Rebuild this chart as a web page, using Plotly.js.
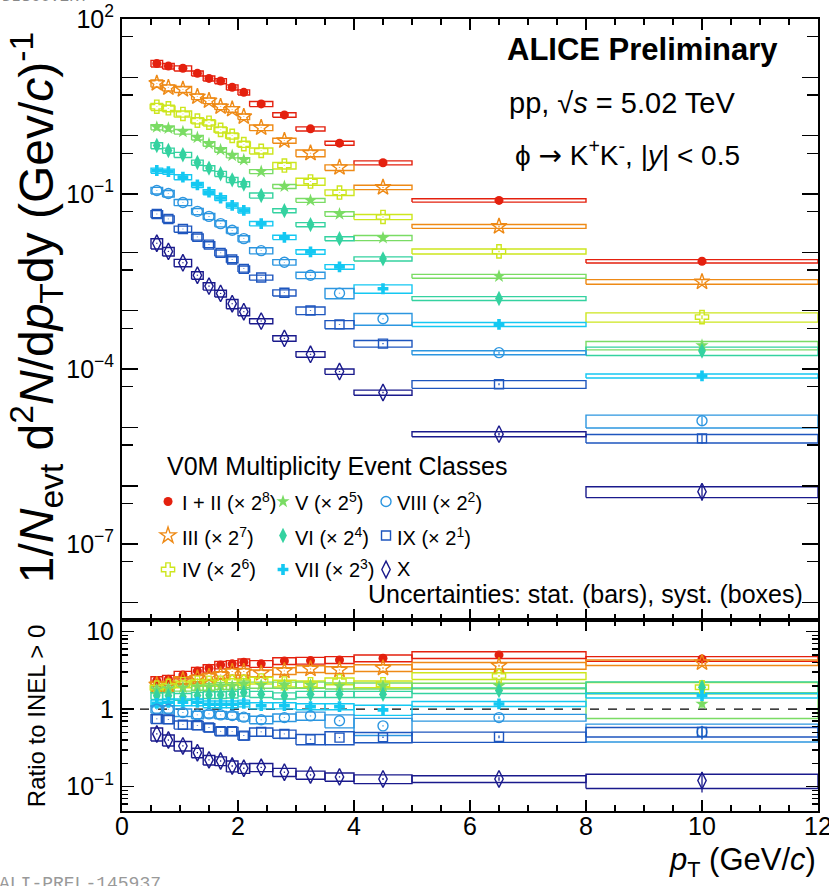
<!DOCTYPE html>
<html><head><meta charset="utf-8">
<script src="https://cdn.plot.ly/plotly-3.0.1.min.js"></script>
<style>html,body{margin:0;padding:0;background:#fff}#chart{width:829px;height:886px}</style>
</head><body><div id="chart"></div>
<script>
// ---------------- data ----------------
const ptEdges   = [0.5,0.7,0.9,1.2,1.4,1.6,1.8,2.0,2.2,2.6,3.0,3.5,4.0,5.0,8.0,12.0];
const ptCenters = [0.6,0.8,1.05,1.3,1.5,1.7,1.9,2.1,2.4,2.8,3.25,3.75,4.5,6.5,10];

// spectra as drawn (already multiplied by the legend scale factor)
const spec_I_II = [17.3,15.6,14.3,11.7,9.6,8.65,6.75,5.54,3.50,2.27,1.31,0.745,0.343,0.0778,0.00705];
const spec_III  = [7.89,6.64,6.23,4.66,3.98,3.14,2.84,2.12,1.37,0.824,0.502,0.285,0.130,0.0279,0.00313];
const spec_IV   = [3.14,2.95,2.36,1.81,1.67,1.26,0.993,0.716,0.550,0.308,0.164,0.106,0.0405,0.0104,0.000778];
const spec_V    = [1.40,1.34,1.17,0.929,0.724,0.572,0.457,0.386,0.243,0.135,0.0778,0.0455,0.0177,0.00390,0.000255];
const spec_VI   = [0.677,0.556,0.470,0.347,0.278,0.222,0.175,0.148,0.0946,0.0519,0.0299,0.0172,0.00775,0.00162,0.000204];
const spec_VII  = [0.253,0.243,0.195,0.144,0.108,0.0855,0.0638,0.0525,0.0311,0.0181,0.0102,0.00565,0.00238,0.000583,0.0000762];
const spec_VIII = [0.115,0.102,0.0718,0.0505,0.0414,0.0311,0.0239,0.0172,0.0107,0.00678,0.00406,0.00200,0.000730,0.000191,0.0000130];
const spec_IX   = [0.0455,0.0374,0.0252,0.0184,0.0136,0.00980,0.00753,0.00522,0.00371,0.00203,0.00101,0.000583,0.000273,0.0000550,0.00000649];
const spec_X    = [0.0143,0.0104,0.00662,0.00406,0.00264,0.00198,0.00132,0.000962,0.000664,0.000336,0.000179,0.0000906,0.0000396,0.00000767,0.000000793];

// relative systematic uncertainties of the spectra (boxes)
const sysS_I_II = [0.13,0.11,0.10,0.10,0.10,0.10,0.10,0.10,0.10,0.09,0.08,0.08,0.08,0.065,0.065];
const sysS_III  = [0.14,0.12,0.12,0.11,0.11,0.11,0.11,0.11,0.11,0.10,0.13,0.11,0.085,0.075,0.09];
const sysS_IV   = [0.14,0.13,0.12,0.12,0.12,0.12,0.12,0.12,0.12,0.13,0.14,0.11,0.10,0.10,0.18];
const sysS_V    = [0.10,0.10,0.09,0.09,0.09,0.09,0.09,0.09,0.08,0.08,0.075,0.09,0.10,0.075,0.165];
const sysS_VI   = [0.12,0.10,0.10,0.10,0.10,0.10,0.10,0.10,0.10,0.08,0.08,0.08,0.08,0.075,0.165];
const sysS_VII  = [0.10,0.10,0.10,0.10,0.10,0.10,0.10,0.10,0.085,0.085,0.09,0.09,0.165,0.08,0.08];
const sysS_VIII = [0.13,0.13,0.12,0.12,0.12,0.12,0.12,0.12,0.12,0.11,0.125,0.20,0.23,0.08,0.25];
const sysS_IX   = [0.14,0.13,0.12,0.12,0.12,0.12,0.12,0.12,0.10,0.12,0.15,0.16,0.13,0.15,0.165];
const sysS_X    = [0.20,0.165,0.145,0.145,0.145,0.13,0.18,0.15,0.10,0.11,0.11,0.105,0.10,0.10,0.21];

// ratio to INEL>0
const ratio_I_II = [2.34,2.44,2.77,3.12,3.38,3.73,3.85,4.04,3.85,4.20,4.24,4.33,4.55,5.02,4.46];
const ratio_III  = [2.06,2.06,2.39,2.51,2.64,2.77,3.05,3.05,2.91,3.12,3.31,3.21,3.40,3.65,3.99];
const ratio_IV   = [1.90,2.00,2.10,2.20,2.20,2.20,2.25,2.25,2.35,2.15,2.10,2.30,2.10,2.69,1.92];
const ratio_V    = [1.80,1.85,1.90,1.95,1.95,2.00,2.00,2.10,2.05,2.05,2.05,2.00,2.00,2.00,1.17];
const ratio_VI   = [1.49,1.49,1.45,1.50,1.53,1.53,1.55,1.64,1.56,1.49,1.56,1.56,1.56,1.74,1.92];
const ratio_VII  = [1.19,1.23,1.23,1.23,1.16,1.16,1.16,1.19,1.11,1.11,1.08,1.08,0.98,1.17,1.50];
const ratio_VIII = [1.00,1.00,0.905,0.845,0.87,0.845,0.83,0.79,0.73,0.78,0.82,0.71,0.61,0.78,0.51];
const ratio_IX   = [0.75,0.74,0.63,0.62,0.58,0.52,0.52,0.456,0.51,0.48,0.41,0.43,0.435,0.44,0.51];
const ratio_X    = [0.48,0.40,0.336,0.275,0.222,0.215,0.185,0.173,0.178,0.154,0.142,0.134,0.126,0.126,0.12];

// relative systematic uncertainties of the ratios (boxes)
const sysR_I_II = [0.12,0.12,0.11,0.11,0.11,0.11,0.10,0.10,0.10,0.10,0.10,0.10,0.10,0.10,0.07];
const sysR_III  = [0.11,0.11,0.10,0.10,0.10,0.10,0.10,0.10,0.10,0.10,0.10,0.10,0.10,0.10,0.08];
const sysR_IV   = [0.10,0.10,0.10,0.10,0.10,0.10,0.10,0.10,0.10,0.10,0.10,0.10,0.10,0.10,0.15];
const sysR_V    = [0.10,0.10,0.10,0.10,0.10,0.10,0.10,0.10,0.09,0.09,0.09,0.09,0.09,0.08,0.35];
const sysR_VI   = [0.10,0.10,0.10,0.10,0.10,0.10,0.10,0.10,0.09,0.09,0.09,0.09,0.09,0.085,0.17];
const sysR_VII  = [0.10,0.10,0.10,0.10,0.10,0.10,0.10,0.10,0.09,0.09,0.09,0.09,0.15,0.075,0.07];
const sysR_VIII = [0.11,0.11,0.11,0.11,0.11,0.11,0.11,0.11,0.11,0.11,0.12,0.19,0.25,0.10,0.26];
const sysR_IX   = [0.13,0.12,0.12,0.12,0.12,0.12,0.12,0.12,0.12,0.12,0.15,0.19,0.15,0.15,0.14];
const sysR_X    = [0.19,0.16,0.14,0.14,0.14,0.13,0.16,0.14,0.12,0.12,0.12,0.12,0.13,0.10,0.21];

// relative statistical uncertainties (bars)
const stat_I_II = [0.01,0.01,0.01,0.01,0.01,0.01,0.01,0.01,0.01,0.01,0.015,0.015,0.02,0.03,0.05];
const stat_III  = [0.01,0.01,0.01,0.01,0.01,0.01,0.01,0.01,0.01,0.01,0.015,0.015,0.02,0.03,0.06];
const stat_IV   = [0.01,0.01,0.01,0.01,0.01,0.01,0.01,0.01,0.01,0.01,0.015,0.015,0.02,0.03,0.08];
const stat_V    = [0.01,0.01,0.01,0.01,0.01,0.01,0.01,0.01,0.01,0.01,0.015,0.015,0.02,0.03,0.12];
const stat_VI   = [0.01,0.01,0.01,0.01,0.01,0.01,0.01,0.01,0.01,0.01,0.015,0.015,0.02,0.03,0.10];
const stat_VII  = [0.01,0.01,0.01,0.01,0.01,0.01,0.01,0.01,0.01,0.01,0.015,0.015,0.02,0.03,0.10];
const stat_VIII = [0.01,0.01,0.01,0.01,0.01,0.01,0.01,0.01,0.01,0.01,0.015,0.015,0.02,0.04,0.18];
const stat_IX   = [0.01,0.01,0.01,0.01,0.01,0.01,0.01,0.01,0.01,0.01,0.015,0.015,0.02,0.04,0.20];
const stat_X    = [0.02,0.02,0.02,0.02,0.02,0.02,0.02,0.02,0.02,0.02,0.02,0.02,0.03,0.05,0.30];

const classNames = ['I + II (× 2<sup>8</sup>)','III (× 2<sup>7</sup>)','IV (× 2<sup>6</sup>)',
                    'V (× 2<sup>5</sup>)','VI (× 2<sup>4</sup>)','VII (× 2<sup>3</sup>)',
                    'VIII (× 2<sup>2</sup>)','IX (× 2<sup>1</sup>)','X'];
const classColors = ['rgb(228,32,14)','rgb(238,138,22)','rgb(205,230,30)','rgb(122,220,100)',
                     'rgb(52,210,160)','rgb(20,200,242)','rgb(44,150,224)','rgb(30,86,190)','rgb(26,26,140)'];
const classSymbols = ['circle','star-open','cross-open','star','diamond-tall','cross','circle-open','square-open','diamond-tall-open'];
const classSizes   = [9,12,11,10,11,9,10,9,12];
const classLegend  = ['legend','legend','legend','legend2','legend2','legend2','legend3','legend3','legend3'];

const specs  = [spec_I_II,spec_III,spec_IV,spec_V,spec_VI,spec_VII,spec_VIII,spec_IX,spec_X];
const sysSs  = [sysS_I_II,sysS_III,sysS_IV,sysS_V,sysS_VI,sysS_VII,sysS_VIII,sysS_IX,sysS_X];
const ratios = [ratio_I_II,ratio_III,ratio_IV,ratio_V,ratio_VI,ratio_VII,ratio_VIII,ratio_IX,ratio_X];
const sysRs  = [sysR_I_II,sysR_III,sysR_IV,sysR_V,sysR_VI,sysR_VII,sysR_VIII,sysR_IX,sysR_X];
const stats  = [stat_I_II,stat_III,stat_IV,stat_V,stat_VI,stat_VII,stat_VIII,stat_IX,stat_X];

const ratioReference = 1;
const xRange = [0, 12];

const topTickVals   = [1e-8,1e-7,1e-6,1e-5,1e-4,1e-3,1e-2,1e-1,1,10,100];
const topTickText   = ['','10<sup>−7</sup>','','','10<sup>−4</sup>','','','10<sup>−1</sup>','','','10<sup>2</sup>'];
const topMinorVals  = [5e-9,5e-8,5e-7,5e-6,5e-5,5e-4,5e-3,5e-2,0.5,5,50];
const botTickVals   = [0.1,1,10];
const botTickText   = ['10<sup>−1</sup>','1','10'];
const botMinorVals  = [0.05,0.06,0.07,0.08,0.09,0.2,0.3,0.4,0.5,0.6,0.7,0.8,0.9,2,3,4,5,6,7,8,9];
const xTickVals     = [0,2,4,6,8,10,12];

// ---------------- traces ----------------
const FONT = 'Liberation Sans, Arial, Helvetica, sans-serif';
const traces = [];

traces.push({x: xRange, y: [ratioReference, ratioReference], xaxis:'x', yaxis:'y2', mode:'lines',
  line:{color:'black', dash:'dash', width:1.2}, showlegend:false, hoverinfo:'skip'});

function boxPath(vals, rel) {
  const xs = [], ys = [];
  vals.forEach((v, i) => {
    const lo = ptEdges[i], hi = ptEdges[i+1];
    const yl = v * (1 - rel[i]), yh = v * (1 + rel[i]);
    xs.push(lo, hi, hi, lo, lo, null);
    ys.push(yl, yl, yh, yh, yl, null);
  });
  return {xs, ys};
}

for (let k = 0; k < specs.length; k++) {
  const b1 = boxPath(specs[k], sysSs[k]);
  traces.push({x:b1.xs, y:b1.ys, xaxis:'x2', yaxis:'y', mode:'lines', line:{color:classColors[k], width:1.4},
    showlegend:false, hoverinfo:'skip', connectgaps:false});
  const b2 = boxPath(ratios[k], sysRs[k]);
  traces.push({x:b2.xs, y:b2.ys, xaxis:'x', yaxis:'y2', mode:'lines', line:{color:classColors[k], width:1.4},
    showlegend:false, hoverinfo:'skip', connectgaps:false});
}

for (let k = 0; k < specs.length; k++) {
  const open = classSymbols[k].includes('open');
  const marker = {symbol:classSymbols[k], size:classSizes[k], color:classColors[k],
                  line:{color:classColors[k], width: open ? 1.4 : 0}};
  const errS = specs[k].map((v, i) => v * stats[k][i]);
  const errR = ratios[k].map((v, i) => v * stats[k][i]);
  // legend shows the marker only; its label is placed as an annotation next to it
  traces.push({x:ptCenters, y:specs[k], xaxis:'x2', yaxis:'y', mode:'markers', marker,
    error_y:{type:'data', array:errS, arrayminus:errS, color:classColors[k], thickness:1.3, width:0},
    name:' ', legend:classLegend[k], legendgroup:'g'+k, showlegend:true});
  traces.push({x:ptCenters, y:ratios[k], xaxis:'x', yaxis:'y2', mode:'markers', marker,
    error_y:{type:'data', array:errR, arrayminus:errR, color:classColors[k], thickness:1.3, width:0},
    name:classNames[k], legendgroup:'g'+k, showlegend:false});
}

// ---------------- layout ----------------
const split = 0.24116;
const frame = {showline:true, linewidth:2, linecolor:'black', mirror:'ticks', showgrid:false, zeroline:false,
               ticks:'inside', tickcolor:'black', tickwidth:1.5};
const xCommon = Object.assign({}, frame, {range:xRange, tickmode:'array', tickvals:xTickVals, ticklen:11,
               minor:{dtick:0.5, ticks:'inside', ticklen:6, tickwidth:1.5, tickcolor:'black'}});

const legendBase = {bgcolor:'rgba(0,0,0,0)', borderwidth:0, font:{family:FONT, size:20, color:'black'},
                    xanchor:'left', yanchor:'top', tracegroupgap:5, itemclick:false, itemdoubleclick:false};

// legend label annotations (3 columns x 3 rows)
const legCol = [0.0833, 0.2457, 0.3923];
const legRow = [0.3902, 0.3472, 0.3056];
const legendLabels = classNames.map((t, k) => ({
  text:t, xref:'paper', yref:'paper', x:legCol[Math.floor(k/3)], y:legRow[k%3], xanchor:'left', yanchor:'middle',
  showarrow:false, font:{family:FONT, size:20, color:'black'}}));

const layout = {
  width:829, height:886,
  margin:{l:122, r:11, t:19, b:75},
  paper_bgcolor:'white', plot_bgcolor:'white',
  font:{family:FONT, color:'black'},
  showlegend:true,
  xaxis: Object.assign({}, xCommon, {domain:[0,1], anchor:'y2', tickfont:{family:FONT, size:25},
    ticklabeloverflow:'allow', ticklabelstandoff:-8}),
  xaxis2: Object.assign({}, xCommon, {domain:[0,1], anchor:'y', matches:'x', showticklabels:false}),
  yaxis: Object.assign({}, frame, {domain:[split,1], anchor:'x2', type:'log', range:[Math.log10(5e-9), 2],
    tickmode:'array', tickvals:topTickVals, ticktext:topTickText, ticklen:16,
    minor:{tickmode:'array', tickvals:topMinorVals, ticks:'inside', ticklen:11, tickwidth:1.5, tickcolor:'black'},
    tickfont:{family:FONT, size:25}, ticklabelstandoff:1, ticklabeloverflow:'allow'}),
  yaxis2: Object.assign({}, frame, {domain:[0,split], anchor:'x', type:'log', range:[-1.313, 1.151],
    tickmode:'array', tickvals:botTickVals, ticktext:botTickText, ticklen:12,
    minor:{tickmode:'array', tickvals:botMinorVals, ticks:'inside', ticklen:6, tickwidth:1.5, tickcolor:'black'},
    tickfont:{family:FONT, size:25}, ticklabelstandoff:1, ticklabeloverflow:'allow'}),
  legend:  Object.assign({}, legendBase, {x:0.0374, y:0.4154}),
  legend2: Object.assign({}, legendBase, {x:0.2026, y:0.4154}),
  legend3: Object.assign({}, legendBase, {x:0.3506, y:0.4154}),
  annotations: legendLabels.concat([
    {text:'<b>ALICE Preliminary</b>', xref:'paper', yref:'paper', x:0.9454, y:0.9609, xanchor:'right', yanchor:'middle',
     showarrow:false, font:{family:FONT, size:31, color:'black'}},
    {text:'pp, √<i>s</i> = 5.02 TeV', xref:'paper', yref:'paper', x:0.5532, y:0.8939, xanchor:'left', yanchor:'middle',
     showarrow:false, font:{family:FONT, size:29, color:'black'}},
    {text:'ϕ <span style="font-family:DejaVu Sans">→</span> K<sup>+</sup>K<sup>-</sup>, |<i>y</i>| < 0.5', xref:'paper', yref:'paper', x:0.5618, y:0.8308, xanchor:'left', yanchor:'middle',
     showarrow:false, font:{family:FONT, size:28, color:'black'}},
    {text:'V0M Multiplicity Event Classes', xref:'paper', yref:'paper', x:0.0618, y:0.4356, xanchor:'left', yanchor:'middle',
     showarrow:false, font:{family:FONT, size:25, color:'black'}},
    {text:'Uncertainties: stat. (bars), syst. (boxes)', xref:'paper', yref:'paper', x:0.9813, y:0.2735, xanchor:'right', yanchor:'middle',
     showarrow:false, font:{family:FONT, size:25, color:'black'}},
    {text:'1/<i>N</i><sub>evt</sub> d<sup>2</sup><i>N</i>/d<i>p</i><sub>T</sub>dy (Gev/<i>c</i>)<sup>-1</sup>', xref:'paper', yref:'paper',
     x:-0.1236, y:0.636, xanchor:'center', yanchor:'middle', textangle:-90, showarrow:false, font:{family:FONT, size:48, color:'black'}},
    {text:'Ratio to INEL > 0', xref:'paper', yref:'paper', x:-0.1236, y:0.121, xanchor:'center', yanchor:'middle',
     textangle:-90, showarrow:false, font:{family:FONT, size:24, color:'black'}},
    {text:'<i>p</i><sub>T</sub> (GeV/<i>c</i>)', xref:'paper', yref:'paper', x:1.0, y:-0.0644, xanchor:'right', yanchor:'middle',
     showarrow:false, font:{family:FONT, size:31, color:'black'}},
    {text:'DISCOVERY', xref:'paper', yref:'paper', x:-0.1753, y:1.0139, xanchor:'left', yanchor:'bottom',
     showarrow:false, font:{family:'Liberation Mono, monospace', size:16, color:'#888'}},
    {text:'ALI-PREL-145937', xref:'paper', yref:'paper', x:-0.1796, y:-0.077, xanchor:'left', yanchor:'top',
     showarrow:false, font:{family:'Liberation Mono, monospace', size:18, color:'#999'}}
  ])
};

Plotly.newPlot('chart', traces, layout, {displayModeBar:false, staticPlot:true});
</script>
</body></html>
